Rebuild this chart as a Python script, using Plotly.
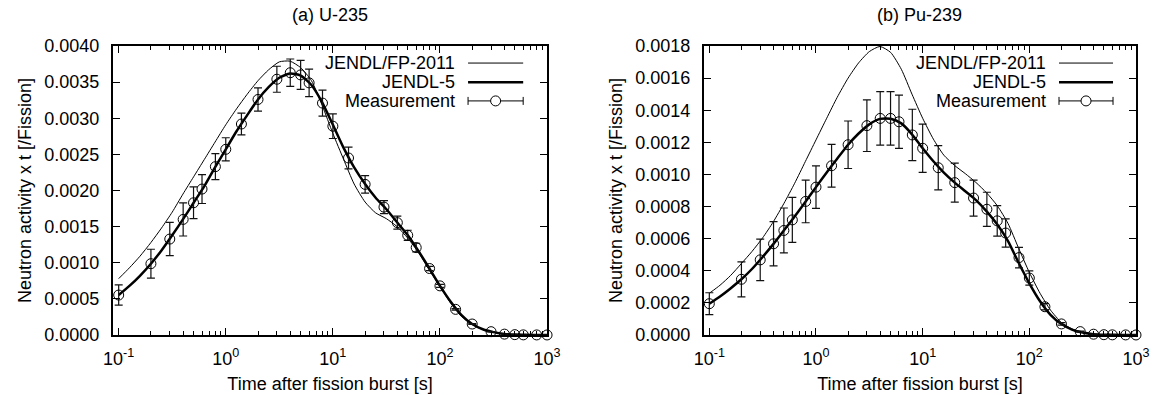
import numpy as np
import plotly.graph_objects as go

# ---------------- data ----------------
# measurement times [s]
meas_t = [0.1, 0.2, 0.3, 0.4, 0.5, 0.6, 0.8, 1.0, 1.4, 2, 3, 4, 5, 6, 8, 10, 14, 20, 30, 40,
          50, 60, 80, 100, 140, 200, 300, 400, 500, 600, 800, 1000]

# U-235 (values in units of 1e-3 /fission)
U_SCALE = 1e-3
u235_meas = [0.553, 0.987, 1.328, 1.60, 1.83, 2.02, 2.33, 2.57, 2.92, 3.26, 3.54, 3.63, 3.60, 3.49,
             3.21, 2.89, 2.45, 2.085, 1.77, 1.555, 1.38, 1.21, 0.92, 0.68, 0.355, 0.152, 0.046,
             0.012, 0.005, 0.002, 0.001, 0.0005]
u235_err = [0.14, 0.20, 0.23, 0.23, 0.22, 0.20, 0.18, 0.16, 0.15, 0.16, 0.18, 0.19, 0.20, 0.19,
            0.18, 0.17, 0.15, 0.12, 0.09, 0.09, 0.07, 0.06, 0.03, 0.02, 0.01, 0.005, 0.002,
            0, 0, 0, 0, 0]

# calculated-curve times [s] (read every 0.1 decade)
curve_t = [0.1, 0.126, 0.158, 0.2, 0.251, 0.316, 0.398, 0.501, 0.631, 0.794, 1.0, 1.26, 1.58, 2.0,
           2.51, 3.16, 3.98, 5.01, 6.31, 7.94, 10, 12.6, 15.8, 20, 25.1, 31.6, 39.8, 50.1, 63.1,
           79.4, 100, 126, 158, 200, 251, 316, 398, 501, 631, 794, 1000]

u235_jendl5 = [0.553, 0.68, 0.82, 0.987, 1.17, 1.38, 1.60, 1.83, 2.06, 2.32, 2.57, 2.82, 3.04, 3.26,
               3.43, 3.56, 3.62, 3.59, 3.46, 3.22, 2.91, 2.59, 2.32, 2.09, 1.90, 1.74, 1.56, 1.38,
               1.16, 0.925, 0.68, 0.46, 0.28, 0.152, 0.08, 0.040, 0.015, 0.006, 0.0025, 0.001,
               0.0005]
u235_fp2011 = [0.78, 0.93, 1.09, 1.28, 1.48, 1.70, 1.95, 2.19, 2.43, 2.67, 2.91, 3.13, 3.33, 3.52,
               3.67, 3.78, 3.79, 3.70, 3.52, 3.18, 2.79, 2.43, 2.09, 1.84, 1.69, 1.61, 1.50, 1.34,
               1.14, 0.90, 0.67, 0.44, 0.26, 0.145, 0.075, 0.037, 0.014, 0.005, 0.002, 0.0008,
               0.0003]

# Pu-239 (values in units of 1e-4 /fission)
P_SCALE = 1e-4
pu239_meas = [1.95, 3.47, 4.68, 5.68, 6.51, 7.17, 8.32, 9.21, 10.54, 11.85, 13.04, 13.49, 13.49,
              13.28, 12.46, 11.63, 10.42, 9.49, 8.53, 7.83, 7.11, 6.35, 4.82, 3.55, 1.76, 0.69,
              0.21, 0.05, 0.02, 0.01, 0.005, 0.002]
pu239_err = [0.68, 1.09, 1.29, 1.38, 1.40, 1.40, 1.33, 1.32, 1.33, 1.48, 1.61, 1.67, 1.67, 1.66,
             1.60, 1.50, 1.38, 1.22, 1.12, 1.06, 0.95, 0.88, 0.64, 0.44, 0.20, 0.08, 0.03,
             0, 0, 0, 0, 0]
pu239_jendl5 = [1.95, 2.4, 2.9, 3.47, 4.11, 4.86, 5.66, 6.52, 7.38, 8.28, 9.21, 10.12, 10.98, 11.85,
                12.55, 13.12, 13.46, 13.47, 13.18, 12.50, 11.63, 10.82, 10.12, 9.49, 8.95, 8.40,
                7.70, 6.88, 5.85, 4.50, 3.22, 2.10, 1.26, 0.68, 0.34, 0.15, 0.055, 0.02, 0.008,
                0.003, 0.001]
pu239_fp2011 = [2.6, 3.1, 3.7, 4.45, 5.2, 6.05, 7.05, 8.2, 9.45, 10.8, 12.15, 13.5, 14.8, 16.0,
                16.95, 17.65, 17.97, 17.6, 16.55, 15.0, 13.5, 12.2, 11.2, 10.55, 10.05, 9.5, 8.85,
                8.05, 6.95, 5.4, 3.9, 2.6, 1.55, 0.78, 0.38, 0.17, 0.06, 0.02, 0.008, 0.003, 0.001]

x_tickvals = [0.1, 1, 10, 100, 1000]
x_ticktext = ["10<sup>-1</sup>", "10<sup>0</sup>", "10<sup>1</sup>", "10<sup>2</sup>", "10<sup>3</sup>"]
panel_titles = ["(a) U-235", "(b) Pu-239"]
legend_names = ["JENDL/FP-2011", "JENDL-5", "Measurement"]
x_title = "Time after fission burst [s]"
y_title = "Neutron activity x t [/Fission]"

# ---------------- figure ----------------
FONT = "Liberation Sans, Arial, Helvetica, sans-serif"
FS = 18
fig = go.Figure()

panels = [
    ("x", "y", U_SCALE, u235_meas, u235_err, u235_jendl5, u235_fp2011),
    ("x2", "y2", P_SCALE, pu239_meas, pu239_err, pu239_jendl5, pu239_fp2011),
]
for xa, ya, sc, meas, err, j5, fp in panels:
    fig.add_trace(go.Scatter(x=curve_t, y=np.array(fp) * sc, xaxis=xa, yaxis=ya, mode="lines",
                             line=dict(color="black", width=1, shape="spline", smoothing=0.6),
                             name=legend_names[0], showlegend=False))
    fig.add_trace(go.Scatter(x=curve_t, y=np.array(j5) * sc, xaxis=xa, yaxis=ya, mode="lines",
                             line=dict(color="black", width=2.5, shape="spline", smoothing=0.6),
                             name=legend_names[1], showlegend=False))
    fig.add_trace(go.Scatter(x=meas_t, y=np.array(meas) * sc, xaxis=xa, yaxis=ya, mode="markers",
                             marker=dict(symbol="circle-open", size=10, color="black",
                                         line=dict(width=1, color="black")),
                             error_y=dict(type="data", array=np.array(err) * sc, visible=True,
                                          color="#111111", thickness=1.2, width=4),
                             cliponaxis=False, name=legend_names[2], showlegend=False))

minor_vals = [m * 10.0 ** d for d in range(-1, 3) for m in range(2, 10)]

def xaxis_cfg(domain, rng, anchor):
    return dict(domain=domain, type="log", range=rng, anchor=anchor, automargin=False,
                tickvals=x_tickvals, ticktext=x_ticktext,
                ticks="inside", ticklen=7, tickwidth=1, tickcolor="black",
                minor=dict(tickvals=minor_vals, ticks="inside", ticklen=4, tickwidth=1,
                           tickcolor="black", showgrid=False),
                showline=True, linecolor="black", linewidth=2, mirror="ticks",
                showgrid=False, zeroline=False, ticklabelstandoff=6,
                tickfont=dict(family=FONT, size=FS, color="black"),
                title=dict(text=x_title, font=dict(family=FONT, size=FS, color="black"), standoff=10))

def yaxis_cfg(rng, dtick, anchor):
    return dict(range=rng, dtick=dtick, tickformat=".4f", anchor=anchor, automargin=False,
                ticks="inside", ticklen=7, tickwidth=1, tickcolor="black",
                showline=True, linecolor="black", linewidth=2, mirror="ticks",
                showgrid=False, zeroline=False, ticklabelstandoff=8,
                tickfont=dict(family=FONT, size=FS, color="black"),
                title=dict(text=y_title, font=dict(family=FONT, size=FS, color="black"), standoff=8))

fig.update_layout(
    width=1154, height=395,
    margin=dict(l=113, r=18, t=46, b=60, autoexpand=False),
    plot_bgcolor="white", paper_bgcolor="white",
    showlegend=False,
    font=dict(family=FONT, size=FS, color="black"),
    xaxis=xaxis_cfg([0, 0.4243], [-1.053, 3], "y"),
    yaxis=yaxis_cfg([0, 0.004], 0.0005, "x"),
    xaxis2=xaxis_cfg([0.5777, 1], [-1.05, 3], "y2"),
    yaxis2=yaxis_cfg([0, 0.0018], 0.0002, "x2"),
)

# titles and hand-drawn key (gnuplot-style: text right-aligned, sample on the right)
annotations = []
shapes = []
key_rows = [0.941, 0.875, 0.810]
for i, (xa, ya) in enumerate([("x", "y"), ("x2", "y2")]):
    xr, yr = f"{xa} domain", f"{ya} domain"
    annotations.append(dict(text=panel_titles[i], xref=xr, yref=yr, x=0.5, y=1.107,
                            xanchor="center", yanchor="middle", showarrow=False,
                            font=dict(family=FONT, size=FS, color="black")))
    tx = 0.7926 if i == 0 else 0.7963
    l0, l1 = (0.818, 0.945) if i == 0 else (0.8218, 0.9468)
    for r, name in enumerate(legend_names):
        annotations.append(dict(text=name, xref=xr, yref=yr, x=tx, y=key_rows[r],
                                xanchor="right", yanchor="middle", showarrow=False,
                                font=dict(family=FONT, size=FS, color="black")))
    shapes.append(dict(type="line", xref=xr, yref=yr, x0=l0, x1=l1, y0=key_rows[0], y1=key_rows[0],
                       line=dict(color="black", width=1)))
    shapes.append(dict(type="line", xref=xr, yref=yr, x0=l0, x1=l1, y0=key_rows[1], y1=key_rows[1],
                       line=dict(color="black", width=2.5)))
    shapes.append(dict(type="line", xref=xr, yref=yr, x0=l0, x1=l1, y0=key_rows[2], y1=key_rows[2],
                       line=dict(color="black", width=1)))
    for xe in (l0, l1):
        shapes.append(dict(type="line", xref=xr, yref=yr, xsizemode="scaled", ysizemode="pixel",
                           yanchor=key_rows[2], x0=xe, x1=xe, y0=-4, y1=4,
                           line=dict(color="black", width=1)))
    shapes.append(dict(type="circle", xref=xr, yref=yr, xsizemode="pixel", ysizemode="pixel",
                       xanchor=(l0 + l1) / 2, yanchor=key_rows[2], x0=-5, x1=5, y0=-5, y1=5,
                       fillcolor="white", line=dict(color="black", width=1)))

fig.update_layout(annotations=annotations, shapes=shapes)
# remove the browser's default 8px page margin so the 1154x395 figure fills the window exactly
fig.write_html("out.html", config={"displayModeBar": False},
               post_script="document.body.style.margin='0px';")
